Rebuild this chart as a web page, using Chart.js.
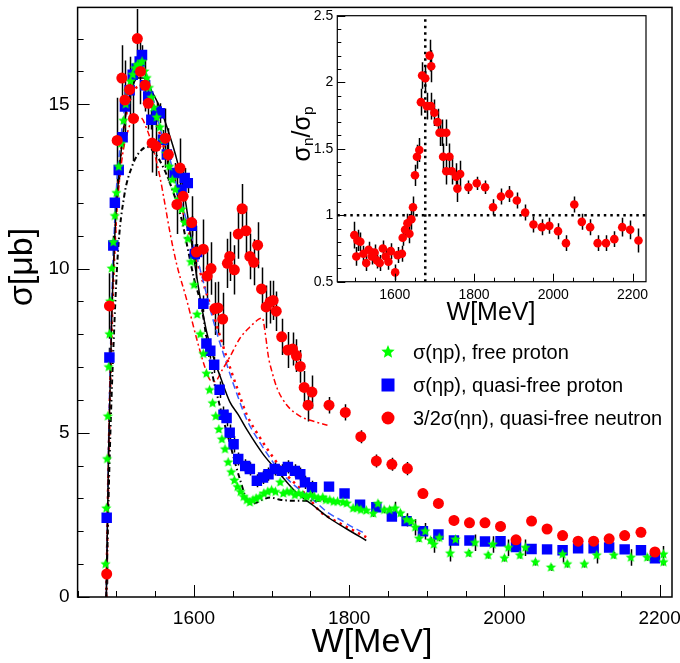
<!DOCTYPE html>
<html>
<head>
<meta charset="utf-8">
<script src="https://cdn.jsdelivr.net/npm/chart.js@4.4.1/dist/chart.umd.min.js"></script>
<style>
  body { margin: 0; background: #fff; }
  #wrap { position: relative; width: 680px; height: 663px; }
  #wrap canvas { position: absolute; left: 0; top: 0; }
</style>
</head>
<body>
<div id="wrap">
  <canvas id="mainChart" width="680" height="663"></canvas>
  <canvas id="insetChart" width="680" height="663"></canvas>
</div>
<script>
'use strict';
// =============== data ===============
const mainXTicks = [1600, 1800, 2000, 2200];
const mainYTicks = [0, 5, 10, 15];
const insetXTicks = [1600, 1800, 2000, 2200];
const insetYTicks = [0.5, 1, 1.5, 2, 2.5];

// sigma(eta p), free proton
const freeW = [1486, 1487, 1488, 1489, 1490, 1491, 1492, 1494, 1496, 1498, 1500, 1503, 1506, 1509, 1512, 1515, 1518, 1521, 1524, 1527, 1530, 1533, 1536, 1539, 1542, 1545, 1548, 1552, 1556, 1560, 1564, 1568, 1572, 1576, 1580, 1584, 1588, 1592, 1596, 1600, 1604, 1608, 1612, 1616, 1620, 1624, 1628, 1632, 1636, 1640, 1644, 1648, 1652, 1656, 1660, 1664, 1668, 1672, 1676, 1680, 1685, 1690, 1695, 1700, 1705, 1711, 1715, 1720, 1725, 1730, 1735, 1740, 1745, 1750, 1755, 1760, 1766, 1770, 1775, 1780, 1785, 1792, 1797, 1805, 1810, 1815, 1822, 1831, 1837, 1845, 1852, 1859, 1866, 1874, 1880, 1885, 1890, 1898, 1905, 1909, 1916, 1930, 1937, 1954, 1962, 1979, 1985, 2000, 2005, 2020, 2027, 2040, 2060, 2075, 2081, 2103, 2119, 2141, 2163, 2184, 2205, 2205];
const freeS = [1.0, 2.7, 4.2, 5.5, 7.0, 8.0, 9.0, 10.0, 10.8, 11.6, 12.3, 13.1, 13.8, 14.5, 15.0, 15.4, 15.7, 15.9, 16.1, 16.2, 16.2, 16.3, 16.0, 15.8, 15.5, 15.2, 14.9, 14.6, 14.3, 13.9, 13.5, 13.1, 12.7, 12.4, 12.1, 11.8, 11.4, 10.9, 10.2, 9.5, 8.6, 8.0, 7.4, 6.8, 6.3, 5.9, 5.5, 5.1, 4.8, 4.5, 4.1, 3.8, 3.55, 3.35, 3.2, 3.05, 2.95, 2.88, 2.95, 3.0, 3.05, 3.15, 3.2, 3.25, 3.2, 3.49, 3.15, 3.2, 3.2, 3.1, 3.15, 3.1, 3.05, 3.1, 3.05, 3.0, 3.03, 2.95, 2.95, 2.9, 2.9, 2.88, 2.85, 2.7, 2.7, 2.65, 2.63, 2.54, 2.84, 2.65, 2.65, 2.7, 2.55, 2.35, 2.3, 2.12, 1.78, 2.0, 1.72, 1.6, 1.8, 1.33, 1.75, 1.33, 1.65, 1.27, 1.6, 1.18, 1.5, 1.27, 1.5, 1.06, 0.9, 1.3, 1.0, 1.0, 1.27, 1.27, 1.2, 1.2, 1.06, 1.3];
const freeE = [0.05, 0.05, 0.05, 0.05, 0.05, 0.05, 0.05, 0.05, 0.05, 0.05, 0.05, 0.05, 0.05, 0.05, 0.05, 0.05, 0.05, 0.05, 0.05, 0.05, 0.05, 0.05, 0.05, 0.05, 0.05, 0.05, 0.05, 0.05, 0.05, 0.05, 0.05, 0.05, 0.05, 0.05, 0.05, 0.05, 0.05, 0.05, 0.05, 0.05, 0.05, 0.05, 0.05, 0.05, 0.05, 0.05, 0.05, 0.05, 0.05, 0.05, 0.05, 0.05, 0.05, 0.05, 0.05, 0.05, 0.05, 0.05, 0.05, 0.05, 0.05, 0.05, 0.05, 0.05, 0.05, 0.05, 0.05, 0.05, 0.05, 0.05, 0.05, 0.05, 0.05, 0.05, 0.05, 0.05, 0.05, 0.05, 0.05, 0.05, 0.05, 0.05, 0.05, 0.05, 0.05, 0.05, 0.05, 0.1, 0.1, 0.1, 0.1, 0.2, 0.1, 0.2, 0.1, 0.25, 0.1, 0.25, 0.1, 0.25, 0.1, 0.25, 0.1, 0.1, 0.25, 0.1, 0.25, 0.1, 0.25, 0.1, 0.25, 0.1, 0.1, 0.25, 0.1, 0.1, 0.25, 0.1, 0.25, 0.1, 0.1, 0.25];

// sigma(eta p), quasi-free proton
const qfpW = [1487.5, 1491, 1496, 1498, 1503, 1508, 1511, 1517, 1521, 1526, 1530, 1533, 1537, 1541, 1545, 1552, 1556, 1560, 1565, 1575, 1584, 1588, 1592, 1597, 1601, 1604, 1612, 1616, 1621, 1626, 1633, 1638, 1642, 1646, 1651, 1657, 1666, 1672, 1681, 1689, 1696, 1704, 1713, 1721, 1730, 1737, 1743, 1752, 1774, 1794, 1814, 1835, 1855, 1874, 1895, 1915, 1935, 1955, 1975, 1995, 2015, 2035, 2055, 2075, 2095, 2115, 2135, 2155, 2176, 2194];
const qfpS = [2.41, 7.29, 10.7, 12.0, 13.0, 14.0, 14.93, 15.43, 15.9, 16.09, 16.3, 16.5, 15.58, 15.24, 14.53, 14.78, 14.73, 13.92, 13.47, 12.91, 12.4, 12.76, 12.6, 11.3, 10.44, 10.5, 8.93, 7.72, 7.5, 7.07, 6.31, 5.55, 5.45, 5.0, 4.65, 4.2, 3.99, 3.9, 3.54, 3.64, 3.74, 3.9, 3.84, 3.96, 3.84, 3.74, 3.49, 3.34, 3.36, 3.15, 2.81, 2.73, 2.45, 2.31, 2.0, 1.9, 1.72, 1.72, 1.69, 1.7, 1.52, 1.46, 1.45, 1.42, 1.48, 1.48, 1.51, 1.45, 1.42, 1.18];
const qfpE = [0.2, 0.3, 0.3, 0.3, 0.3, 0.3, 0.3, 0.3, 0.3, 0.3, 0.3, 0.3, 0.3, 0.3, 0.3, 0.3, 0.3, 0.3, 0.3, 0.3, 0.3, 0.3, 0.3, 0.3, 0.3, 0.25, 0.25, 0.25, 0.25, 0.25, 0.25, 0.25, 0.25, 0.25, 0.25, 0.2, 0.2, 0.2, 0.2, 0.2, 0.2, 0.2, 0.2, 0.2, 0.2, 0.2, 0.2, 0.2, 0.1, 0.1, 0.1, 0.1, 0.1, 0.1, 0.1, 0.1, 0.1, 0.1, 0.1, 0.1, 0.1, 0.1, 0.1, 0.1, 0.1, 0.1, 0.1, 0.1, 0.1, 0.1];

// 3/2 sigma(eta n), quasi-free neutron
const qfnW = [1487.5, 1491, 1501, 1507, 1511, 1517, 1522, 1527, 1531, 1537, 1541, 1546, 1551, 1563, 1567, 1578, 1582, 1586, 1597, 1603, 1612, 1617, 1622, 1627, 1631, 1637, 1643, 1646, 1652, 1657, 1662, 1667, 1672, 1677, 1682, 1687, 1693, 1698, 1702, 1706, 1713, 1721, 1727, 1732, 1737, 1742, 1747, 1752, 1774, 1795, 1815, 1835, 1855, 1875, 1895, 1915, 1935, 1955, 1975, 1995, 2015, 2035, 2055, 2075, 2095, 2115, 2135, 2155, 2176, 2194];
const qfnS = [0.7, 8.86, 13.9, 15.8, 15.13, 15.45, 14.57, 17.0, 16.0, 15.58, 15.03, 13.82, 13.72, 13.97, 13.47, 11.95, 13.06, 12.2, 11.4, 10.5, 10.59, 9.77, 10.0, 8.78, 8.8, 8.46, 10.16, 10.37, 9.96, 11.05, 11.82, 11.15, 10.37, 10.19, 10.71, 9.38, 8.83, 8.98, 9.03, 8.7, 7.92, 7.52, 7.55, 7.35, 7.02, 6.38, 5.84, 6.24, 5.84, 5.62, 4.88, 4.14, 4.04, 3.91, 3.15, 2.85, 2.33, 2.26, 2.26, 2.15, 1.74, 2.31, 2.07, 1.87, 1.7, 1.7, 1.77, 1.87, 1.97, 1.37];
const qfnE = [0.3, 1.0, 1.3, 1.0, 1.2, 1.0, 1.3, 0.9, 1.0, 0.8, 0.8, 0.9, 0.9, 0.9, 0.8, 0.9, 0.9, 0.9, 0.8, 0.8, 0.9, 0.8, 0.8, 0.8, 0.8, 0.8, 0.75, 0.75, 0.75, 0.75, 0.75, 0.75, 0.7, 0.7, 0.7, 0.65, 0.65, 0.65, 0.6, 0.6, 0.55, 0.55, 0.5, 0.5, 0.5, 0.5, 0.5, 0.5, 0.25, 0.25, 0.2, 0.2, 0.2, 0.2, 0.15, 0.15, 0.15, 0.15, 0.15, 0.15, 0.15, 0.15, 0.15, 0.15, 0.15, 0.15, 0.15, 0.15, 0.15, 0.15];

// model curves
const solidW = [1487, 1490, 1494, 1499, 1505, 1512, 1520, 1528, 1535, 1543, 1556, 1568, 1578, 1588, 1598, 1608, 1616, 1625, 1634, 1646, 1657, 1668, 1689, 1711, 1732, 1753, 1775, 1797, 1822];
const solidS = [0, 4.5, 8.5, 11.5, 13.3, 14.7, 15.5, 15.8, 15.8, 15.5, 14.9, 14.1, 13.3, 12.2, 10.6, 9.1, 8.1, 7.3, 6.7, 5.95, 5.55, 5.1, 4.35, 3.74, 3.18, 2.8, 2.39, 2.07, 1.72];
const dashDotW = [1487, 1491, 1496, 1502, 1510, 1520, 1530, 1540, 1550, 1560, 1569, 1584, 1592, 1600, 1610, 1621, 1634, 1646, 1659, 1672, 1679, 1690, 1698, 1711, 1732, 1753, 1783];
const dashDotS = [0, 4.0, 7.5, 10.5, 12.2, 13.1, 13.55, 13.7, 13.5, 13.1, 12.6, 11.5, 10.6, 9.7, 8.8, 7.1, 5.75, 4.7, 3.6, 2.83, 2.86, 2.98, 3.03, 2.96, 2.93, 2.93, 2.93];
const redFitW = [1487, 1490, 1494, 1500, 1507, 1515, 1523, 1531, 1540, 1548, 1556, 1563, 1569, 1578, 1590, 1603, 1614, 1621, 1627, 1636, 1646, 1659, 1672, 1683, 1688, 1692, 1696, 1700, 1707, 1719, 1737, 1754, 1772];
const redFitS = [0, 4.5, 8.5, 11.5, 13.3, 14.2, 14.6, 14.6, 14.2, 13.6, 12.8, 11.9, 11.1, 10.1, 9.1, 7.9, 7.0, 6.6, 6.56, 6.9, 7.3, 7.87, 8.22, 8.45, 8.5, 8.0, 7.3, 6.9, 6.36, 5.86, 5.5, 5.35, 5.23];
const blueFitW = [1487, 1490, 1494, 1499, 1505, 1512, 1520, 1528, 1535, 1543, 1556, 1567, 1578, 1590, 1602, 1612, 1625, 1642, 1655, 1668, 1685, 1702, 1720, 1737, 1754, 1772, 1790, 1805, 1820];
const blueFitS = [0, 4.8, 9.0, 12.0, 13.8, 15.1, 15.9, 16.2, 16.1, 15.6, 14.3, 13.5, 12.5, 11.5, 10.5, 9.6, 8.4, 7.1, 6.2, 5.4, 4.7, 4.1, 3.6, 3.25, 2.95, 2.58, 2.33, 2.12, 1.94];
const redDotW = [1487, 1490, 1494, 1499, 1505, 1512, 1520, 1530, 1540, 1548, 1556, 1567, 1578, 1590, 1602, 1614, 1625, 1642, 1655, 1668, 1685, 1702, 1720, 1737, 1750, 1762, 1779, 1797, 1813, 1822];
const redDotS = [0, 4.2, 8.2, 11.3, 13.3, 14.6, 15.3, 15.55, 15.3, 14.95, 14.1, 13.3, 12.4, 11.4, 10.4, 9.4, 8.6, 7.3, 6.4, 5.55, 4.85, 4.25, 3.7, 3.3, 2.95, 2.61, 2.36, 2.13, 1.93, 1.82];

// ratio sigma_n / sigma_p (inset)
const ratioW = [1498, 1503, 1506, 1513, 1521, 1528, 1534, 1542, 1549, 1555, 1562, 1570, 1577, 1584, 1590, 1601, 1607, 1618, 1620, 1626, 1632, 1637, 1642, 1646, 1651, 1656, 1662, 1666, 1669, 1677, 1681, 1688, 1692, 1691, 1700, 1708, 1713, 1719, 1730, 1722, 1738, 1730, 1744, 1755, 1765, 1758, 1786, 1807, 1828, 1848, 1868, 1889, 1908, 1929, 1950, 1971, 1990, 2012, 2032, 2053, 2072, 2093, 2112, 2133, 2154, 2174, 2194, 2215];
const ratioR = [0.85, 0.69, 0.81, 0.80, 0.71, 0.64, 0.74, 0.69, 0.72, 0.66, 0.64, 0.75, 0.69, 0.65, 0.73, 0.57, 0.70, 0.71, 0.83, 0.89, 0.94, 0.86, 0.97, 1.06, 1.30, 1.44, 1.49, 1.85, 2.05, 2.03, 1.82, 2.20, 2.12, 1.82, 1.77, 1.70, 1.62, 1.62, 1.62, 1.44, 1.44, 1.33, 1.33, 1.29, 1.31, 1.20, 1.21, 1.24, 1.21, 1.06, 1.14, 1.16, 1.11, 1.02, 0.93, 0.91, 0.92, 0.88, 0.79, 1.08, 0.95, 0.91, 0.79, 0.79, 0.82, 0.91, 0.89, 0.81];
const ratioE = [0.1, 0.07, 0.08, 0.07, 0.06, 0.06, 0.06, 0.06, 0.06, 0.06, 0.06, 0.06, 0.06, 0.06, 0.06, 0.06, 0.06, 0.06, 0.06, 0.07, 0.07, 0.07, 0.08, 0.08, 0.08, 0.09, 0.09, 0.1, 0.1, 0.1, 0.1, 0.12, 0.12, 0.1, 0.1, 0.1, 0.1, 0.1, 0.1, 0.1, 0.1, 0.1, 0.1, 0.1, 0.1, 0.1, 0.05, 0.05, 0.05, 0.06, 0.06, 0.06, 0.06, 0.06, 0.06, 0.06, 0.06, 0.06, 0.06, 0.06, 0.06, 0.06, 0.06, 0.06, 0.06, 0.07, 0.07, 0.09];
const thresholdW = 1677;
const unitRatio = 1;

// =============== helpers ===============
const FONT = "'Liberation Sans', Arial, Helvetica, sans-serif";
const pts = (xs, ys) => xs.map((x, i) => ({ x: x, y: ys[i] }));

function starImage(r, color) {
    const c = document.createElement('canvas');
    const s = Math.ceil(r * 2 + 2);
    c.width = s; c.height = s;
    const g = c.getContext('2d');
    g.fillStyle = color;
    g.beginPath();
    for (let i = 0; i < 10; i++) {
        const rr = i % 2 ? r * 0.45 : r;
        const a = -Math.PI / 2 + i * Math.PI / 5;
        g.lineTo(s / 2 + rr * Math.cos(a), s / 2 + rr * Math.sin(a));
    }
    g.closePath();
    g.fill();
    return c;
}
const star = starImage(5.4, '#00ff00');
const bigStar = starImage(7, '#00ff00');

// =============== plugins ===============
const errorBars = {
    id: 'errorBars',
    beforeDatasetsDraw(chart) {
        const { ctx, chartArea: a, scales: { x, y } } = chart;
        ctx.save();
        ctx.beginPath();
        ctx.rect(a.left, a.top, a.right - a.left, a.bottom - a.top);
        ctx.clip();
        ctx.strokeStyle = '#000';
        ctx.lineWidth = 1.5;
        chart.data.datasets.forEach((ds) => {
            if (!ds.errors) return;
            ctx.beginPath();
            ds.data.forEach((p, j) => {
                const e = ds.errors[j];
                if (!e) return;
                const px = Math.round(x.getPixelForValue(p.x)) + 0.5;
                ctx.moveTo(px, y.getPixelForValue(p.y - e));
                ctx.lineTo(px, y.getPixelForValue(p.y + e));
            });
            ctx.stroke();
        });
        ctx.restore();
    }
};

// box round the plot and inward ticks
const frame = {
    id: 'frame',
    afterDraw(chart, args, o) {
        const { ctx, chartArea: a, scales: { x, y } } = chart;
        ctx.save();
        ctx.strokeStyle = '#000';
        ctx.lineWidth = o.lineWidth;
        ctx.strokeRect(a.left, a.top, a.right - a.left, a.bottom - a.top);
        ctx.lineWidth = 1;
        ctx.beginPath();
        const x0 = Math.ceil(x.min / o.xStep);
        for (let k = x0; k * o.xStep <= x.max; k++) {
            const v = k * o.xStep;
            const px = Math.round(x.getPixelForValue(v)) + 0.5;
            const len = o.xMajor.includes(v) ? o.major : o.minor;
            ctx.moveTo(px, a.bottom);
            ctx.lineTo(px, a.bottom - len);
        }
        const y0 = Math.ceil(y.min / o.yStep - 1e-6);
        for (let k = y0; k * o.yStep <= y.max + 1e-6; k++) {
            const v = Math.round(k * o.yStep * 1000) / 1000;
            const py = Math.round(y.getPixelForValue(v)) + 0.5;
            const len = o.yMajor.includes(v) ? o.major : o.minor;
            ctx.moveTo(a.left, py);
            ctx.lineTo(a.left + len, py);
        }
        ctx.stroke();
        ctx.restore();
    }
};

// axis titles (with optional subscripts)
function drawParts(ctx, parts, size) {
    let w = 0;
    parts.forEach(p => {
        ctx.font = (p.sub ? size * 0.62 : size) + 'px ' + FONT;
        w += ctx.measureText(p.t).width;
    });
    let cx = -w / 2;
    parts.forEach(p => {
        ctx.font = (p.sub ? size * 0.62 : size) + 'px ' + FONT;
        ctx.fillText(p.t, cx, p.sub ? size * 0.22 : 0);
        cx += ctx.measureText(p.t).width;
    });
}
const titles = {
    id: 'titles',
    afterDraw(chart, args, o) {
        const ctx = chart.ctx;
        ctx.save();
        ctx.fillStyle = '#000';
        ctx.textBaseline = 'middle';
        ctx.textAlign = 'left';
        o.items.forEach(it => {
            ctx.save();
            ctx.translate(it.x, it.y);
            if (it.rotate) ctx.rotate(it.rotate);
            drawParts(ctx, it.parts, it.size);
            ctx.restore();
        });
        ctx.restore();
    }
};

// legend inside the plot
const innerLegend = {
    id: 'innerLegend',
    afterDraw(chart, args, o) {
        const ctx = chart.ctx;
        ctx.save();
        ctx.font = o.size + 'px ' + FONT;
        ctx.textBaseline = 'middle';
        ctx.fillStyle = '#000';
        o.entries.forEach((idx, i) => {
            const ds = chart.data.datasets[idx];
            const y = o.y + i * o.gap;
            const x = o.x;
            if (ds.pointStyle === 'rect') {
                ctx.fillStyle = ds.backgroundColor;
                ctx.fillRect(x - 6.5, y - 6.5, 13, 13);
            } else if (ds.pointStyle === 'circle') {
                ctx.fillStyle = ds.backgroundColor;
                ctx.beginPath();
                ctx.arc(x, y, 6.5, 0, Math.PI * 2);
                ctx.fill();
            } else {
                ctx.drawImage(bigStar, x - bigStar.width / 2, y - bigStar.height / 2);
            }
            ctx.fillStyle = '#000';
            ctx.fillText(ds.label, x + 25, y + 1);
        });
        ctx.restore();
    }
};

// =============== main chart ===============
const line = (data, color, dash, width, order) => ({
    data: data, showLine: true, pointRadius: 0, borderColor: color,
    borderWidth: width, borderDash: dash, fill: false, order: order,
    cubicInterpolationMode: 'monotone'
});

new Chart(document.getElementById('mainChart'), {
    type: 'scatter',
    data: {
        datasets: [
            { label: 'σ(ηp), free proton', data: pts(freeW, freeS), errors: freeE,
              pointStyle: star, backgroundColor: '#00ff00', borderColor: '#00ff00', order: 2 },
            { label: 'σ(ηp), quasi-free proton', data: pts(qfpW, qfpS), errors: qfpE,
              pointStyle: 'rect', pointRadius: 7.4, backgroundColor: '#0000ff', borderWidth: 0, order: 3 },
            { label: '3/2σ(ηn), quasi-free neutron', data: pts(qfnW, qfnS), errors: qfnE,
              pointStyle: 'circle', pointRadius: 5.5, backgroundColor: '#ff0000', borderWidth: 0, order: 1 },
            line(pts(solidW, solidS), '#000000', [], 1.5, 6),
            line(pts(dashDotW, dashDotS), '#000000', [5, 3, 1.5, 3], 2, 7),
            line(pts(redFitW, redFitS), '#ff0000', [6, 3, 2, 3], 1.5, 8),
            line(pts(blueFitW, blueFitS), '#3a5cff', [7, 4], 1.5, 9),
            line(pts(redDotW, redDotS), '#ff0000', [2.5, 4.5], 2.5, 10)
        ]
    },
    options: {
        responsive: false,
        animation: false,
        layout: { padding: { top: 3, right: 8, left: 0, bottom: 0 } },
        scales: {
            x: {
                type: 'linear', min: 1450, max: 2216,
                grid: { display: false, drawTicks: false }, border: { display: false },
                afterBuildTicks: s => { s.ticks = mainXTicks.map(v => ({ value: v })); },
                afterFit: s => { s.height = 66; s.paddingLeft = 0; s.paddingRight = 0; },
                ticks: { padding: 10, color: '#000', font: { family: FONT, size: 19 }, callback: v => String(v), maxRotation: 0 }
            },
            y: {
                type: 'linear', min: 0, max: 17.95,
                grid: { display: false, drawTicks: false }, border: { display: false },
                afterBuildTicks: s => { s.ticks = mainYTicks.map(v => ({ value: v })); },
                afterFit: s => { s.width = 77.6; s.paddingTop = 0; s.paddingBottom = 0; },
                ticks: { padding: 8, color: '#000', font: { family: FONT, size: 19 }, callback: v => String(v) }
            }
        },
        plugins: {
            legend: { display: false },
            tooltip: { enabled: false },
            frame: { lineWidth: 1.5, xStep: 50, yStep: 1, xMajor: mainXTicks, yMajor: mainYTicks, major: 12, minor: 6 },
            titles: { items: [
                { x: 372, y: 643, size: 34, parts: [{ t: 'W[MeV]' }] },
                { x: 23, y: 267, size: 34, rotate: -Math.PI / 2, parts: [{ t: 'σ[μb]' }] }
            ] },
            innerLegend: { x: 388, y: 352, gap: 33, size: 20, entries: [0, 1, 2] }
        }
    },
    plugins: [errorBars, frame, titles, innerLegend]
});

// =============== inset ===============
new Chart(document.getElementById('insetChart'), {
    type: 'scatter',
    data: {
        datasets: [
            { label: 'σn/σp', data: pts(ratioW, ratioR), errors: ratioE,
              pointStyle: 'circle', pointRadius: 4.3, backgroundColor: '#ff0000', borderWidth: 0, order: 1 },
            { data: [{ x: 1455, y: unitRatio }, { x: 2234, y: unitRatio }], showLine: true, pointRadius: 0,
              borderColor: '#000', borderWidth: 2.5, borderDash: [2.5, 4], order: 2 },
            { data: [{ x: thresholdW, y: 0.5 }, { x: thresholdW, y: 2.5 }], showLine: true, pointRadius: 0,
              borderColor: '#000', borderWidth: 2.5, borderDash: [2.5, 4], order: 3 }
        ]
    },
    options: {
        responsive: false,
        animation: false,
        layout: { padding: { top: 15.7, right: 34, left: 280, bottom: 331.3 } },
        scales: {
            x: {
                type: 'linear', min: 1455, max: 2234,
                grid: { display: false, drawTicks: false }, border: { display: false },
                afterBuildTicks: s => { s.ticks = insetXTicks.map(v => ({ value: v })); },
                afterFit: s => { s.height = 50; s.paddingLeft = 0; s.paddingRight = 0; },
                ticks: { padding: 5, color: '#000', font: { family: FONT, size: 14 }, callback: v => String(v), maxRotation: 0 }
            },
            y: {
                type: 'linear', min: 0.5, max: 2.5,
                grid: { display: false, drawTicks: false }, border: { display: false },
                afterBuildTicks: s => { s.ticks = insetYTicks.map(v => ({ value: v })); },
                afterFit: s => { s.width = 57.3; s.paddingTop = 0; s.paddingBottom = 0; },
                ticks: { padding: 4, color: '#000', font: { family: FONT, size: 14 }, callback: v => String(v) }
            }
        },
        plugins: {
            legend: { display: false },
            tooltip: { enabled: false },
            frame: { lineWidth: 1.2, xStep: 50, yStep: 0.1, xMajor: insetXTicks, yMajor: insetYTicks, major: 8, minor: 4 },
            titles: { items: [
                { x: 491, y: 313, size: 25, parts: [{ t: 'W[MeV]' }] },
                { x: 303, y: 134, size: 25, rotate: -Math.PI / 2,
                  parts: [{ t: 'σ' }, { t: 'n', sub: true }, { t: '/σ' }, { t: 'p', sub: true }] }
            ] }
        }
    },
    plugins: [errorBars, frame, titles]
});
</script>
</body>
</html>
